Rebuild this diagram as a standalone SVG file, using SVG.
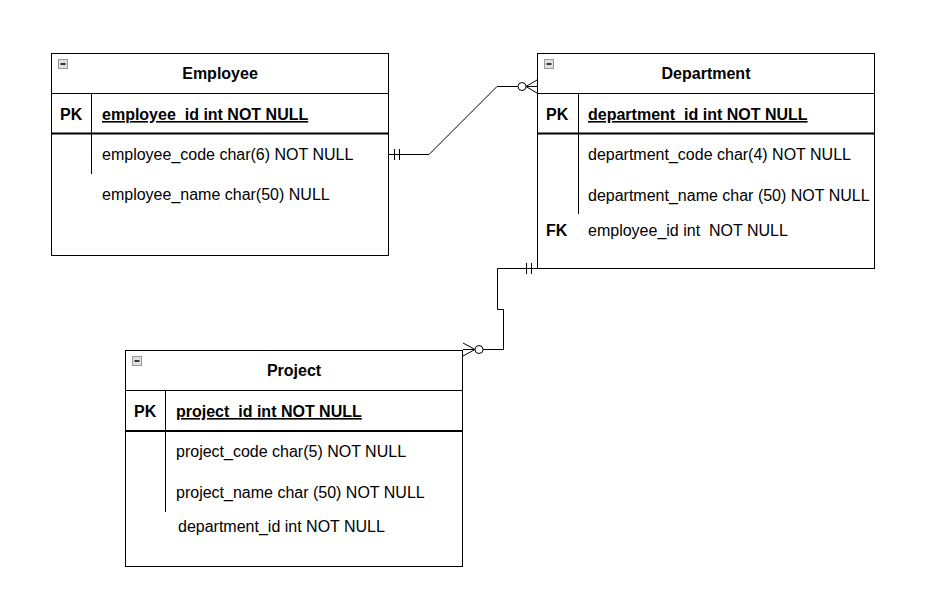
<svg xmlns="http://www.w3.org/2000/svg" width="952" height="595" viewBox="0 0 952 595">
<style>
.box{fill:#fff;stroke:#000;stroke-width:1}
.ln{stroke:#000;stroke-width:1;fill:none}
.thk{stroke:#000;stroke-width:2;fill:none}
.t{font-family:"Liberation Sans",Arial,sans-serif;font-size:16px;fill:#000}
.b{font-weight:bold}
.ttl{font-family:"Liberation Sans",Arial,sans-serif;font-size:16px;font-weight:bold;text-anchor:middle;fill:#000}
.icn{fill:#e0e0e0;stroke:#999;stroke-width:1}
.conn{stroke:#000;stroke-width:1;fill:none}
</style>
<defs>
<g id="minus"><rect class="icn" x="0.5" y="0.5" width="9" height="9"/><line x1="2.5" y1="5" x2="7.5" y2="5" stroke="#000" stroke-width="1.5"/></g>
</defs>
<rect width="952" height="595" fill="#fff"/>
<g id="employee">
<rect class="box" x="51.5" y="53.5" width="337" height="202"/>
<use href="#minus" x="58" y="59"/>
<text class="ttl" x="220" y="79">Employee</text>
<line class="ln" x1="51.5" y1="93.5" x2="388.5" y2="93.5"/>
<line class="thk" x1="51.5" y1="133.5" x2="388.5" y2="133.5"/>
<line class="ln" x1="91.5" y1="93.5" x2="91.5" y2="174"/>
<text class="t b" x="60" y="120">PK</text>
<text class="t b" x="102" y="120" text-decoration="underline">employee_id int NOT NULL</text>
<text class="t" x="102" y="160">employee_code char(6) NOT NULL</text>
<text class="t" x="102" y="200">employee_name char(50) NULL</text>
</g>
<g id="department">
<rect class="box" x="537.5" y="53.5" width="337" height="215"/>
<use href="#minus" x="544" y="59"/>
<text class="ttl" x="706" y="79">Department</text>
<line class="ln" x1="537.5" y1="93.5" x2="874.5" y2="93.5"/>
<line class="thk" x1="537.5" y1="133.5" x2="874.5" y2="133.5"/>
<line class="ln" x1="578.5" y1="93.5" x2="578.5" y2="214"/>
<text class="t b" x="546" y="120">PK</text>
<text class="t b" x="588" y="120" text-decoration="underline">department_id int NOT NULL</text>
<text class="t" x="588" y="160">department_code char(4) NOT NULL</text>
<text class="t" x="588" y="201">department_name char (50) NOT NULL</text>
<text class="t b" x="546" y="236">FK</text>
<text class="t" x="588" y="236" xml:space="preserve">employee_id int  NOT NULL</text>
</g>
<g id="project">
<rect class="box" x="125.5" y="350.5" width="337" height="216"/>
<use href="#minus" x="132" y="356"/>
<text class="ttl" x="294" y="376">Project</text>
<line class="ln" x1="125.5" y1="390.5" x2="462.5" y2="390.5"/>
<line class="thk" x1="125.5" y1="431" x2="462.5" y2="431"/>
<line class="ln" x1="165.5" y1="390.5" x2="165.5" y2="512"/>
<text class="t b" x="134" y="417">PK</text>
<text class="t b" x="176" y="417" text-decoration="underline">project_id int NOT NULL</text>
<text class="t" x="176" y="457">project_code char(5) NOT NULL</text>
<text class="t" x="176" y="498">project_name char (50) NOT NULL</text>
<text class="t" x="178" y="532">department_id int NOT NULL</text>
</g>
<g id="connectors">
<path class="conn" d="M389 154.5 H429 L497 86.5 H518"/>
<line class="conn" x1="394.5" y1="149" x2="394.5" y2="160"/>
<line class="conn" x1="399.5" y1="149" x2="399.5" y2="160"/>
<circle class="conn" cx="522" cy="86.5" r="4"/>
<path class="conn" d="M537 80 L526 86.5 L537 93 M526 86.5 H537"/>
<path class="conn" d="M537 268.5 H497.5 V309.5 H503.5 V349.5 H483"/>
<line class="conn" x1="526.5" y1="263" x2="526.5" y2="274"/>
<line class="conn" x1="531.5" y1="263" x2="531.5" y2="274"/>
<circle class="conn" cx="479" cy="349.5" r="4"/>
<path class="conn" d="M463 343 L475 349.5 L463 356 M463 349.5 H475"/>
</g>
</svg>
